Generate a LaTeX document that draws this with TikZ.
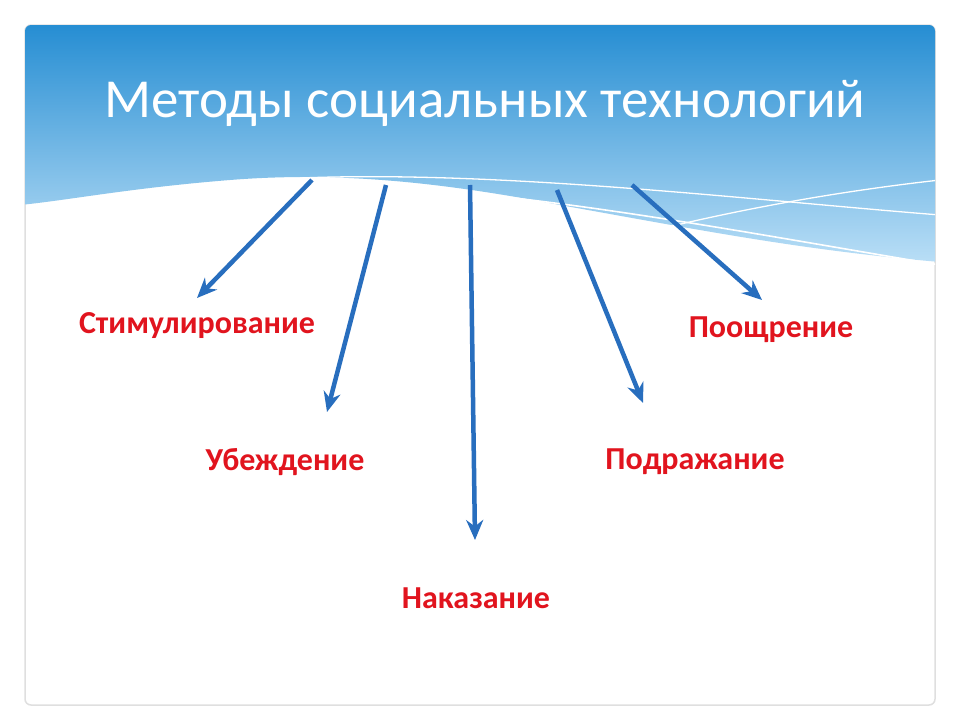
\documentclass[tikz,border=0pt]{standalone}
\usepackage{fontspec}
\setmainfont{Carlito}
\definecolor{hdrtop}{RGB}{35,140,210}
\definecolor{hdrbot}{RGB}{185,222,246}
\definecolor{arr}{RGB}{40,110,190}
\definecolor{lbl}{RGB}{225,20,30}
\usetikzlibrary{arrows.meta}
\tikzset{
  conn/.style={draw=arr,line width=4.5pt,-{Stealth[length=20pt,width=17pt]}},
  lab/.style={text=lbl,font=\bfseries\fontsize{32}{36}\selectfont},
}
\begin{document}
\begin{tikzpicture}[x=1pt,y=-1pt]
\useasboundingbox (0,0) rectangle (960,720);
\fill[white] (0,0) rectangle (960,720);
\draw[gray!25,line width=1.5pt,rounded corners=6pt] (25,25) rectangle (935,705);
\begin{scope}
\clip[rounded corners=6pt] (25,25) rectangle (935,705);
\shade[top color=hdrtop,bottom color=hdrbot]
  (25,20) -- (940,20) -- (940,262) .. controls (800,250) and (700,230) .. (560,205)
  .. controls (430,180) and (330,172) .. (230,180) .. controls (130,188) and (70,200) .. (20,205) -- cycle;
\draw[white,line width=1.6pt] (240,185) .. controls (450,175) and (700,225) .. (940,265);
\draw[white,line width=1.3pt] (580,250) .. controls (720,210) and (850,190) .. (940,180);
\draw[white,line width=1.3pt] (300,178) .. controls (500,170) and (750,200) .. (940,215);
\end{scope}
\node (title) at (485,103) {\color{white}\fontsize{55}{60}\selectfont Методы социальных технологий};
\coordinate (s1) at (312,180); \coordinate (s2) at (386,185);
\coordinate (s3) at (470,185); \coordinate (s4) at (557,190);
\coordinate (s5) at (632,185);
\coordinate (e1) at (197,298); \coordinate (e2) at (327,412);
\coordinate (e3) at (475,540); \coordinate (e4) at (643,403);
\coordinate (e5) at (762,300);
\foreach \i in {1,...,5} \draw[conn] (s\i) -- (e\i);
\node[lab] (a) at (197,326) {Стимулирование};
\node[lab] (b) at (285,462) {Убеждение};
\node[lab] (c) at (476,598) {Наказание};
\node[lab] (d) at (695,462) {Подражание};
\node[lab] (e) at (771,330) {Поощрение};
\end{tikzpicture}
\end{document}
